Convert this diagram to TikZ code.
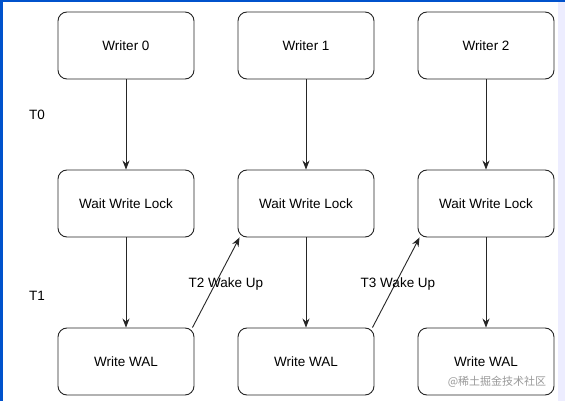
\documentclass[tikz,border=0pt]{standalone}
\usepackage{fontspec}
\setmainfont{Liberation Sans}
\newfontfamily\cjk{Noto Sans CJK SC}
\usetikzlibrary{arrows.meta}
\begin{document}
\begin{tikzpicture}[x=1pt,y=-1pt,
  box/.style={draw=black!85,line width=0.9pt,rounded corners=9pt,minimum width=136pt,minimum height=67pt,inner sep=0pt,font=\fontsize{13.5}{15}\selectfont,fill=white},
  arr/.style={draw=black!85,line width=0.9pt,-{Stealth[length=9pt,width=7pt]}},
  lbl/.style={font=\fontsize{13.5}{15}\selectfont,inner sep=0pt}]
\useasboundingbox (0,0) rectangle (565,401);
\fill[white] (0,0) rectangle (565,401);
\fill[blue!60!cyan!80!black] (0,0) rectangle (3,401);
\fill[blue!60!cyan!80!black] (0,0) rectangle (565,2);
\fill[blue!7!white] (558,2) rectangle (565,401);
\node[box] (w0) at (126,45.5) {Writer 0};
\node[box] (w1) at (306,45.5) {Writer 1};
\node[box] (w2) at (486,45.5) {Writer 2};
\node[box] (l0) at (126,203.5) {Wait Write Lock};
\node[box] (l1) at (306,203.5) {Wait Write Lock};
\node[box] (l2) at (486,203.5) {Wait Write Lock};
\node[box] (a0) at (126,361.5) {Write WAL};
\node[box] (a1) at (306,361.5) {Write WAL};
\node[box] (a2) at (486,361.5) {Write WAL};
\foreach \i in {0,1,2}{
  \draw[arr] (w\i) -- (l\i);
  \draw[arr] (l\i) -- (a\i);
}
\draw[arr] (a0.north east) ++(-2,0) coordinate (s0) (s0) -- ([xshift=2pt]l1.south west);
\draw[arr] (a1.north east) ++(-2,0) coordinate (s1) (s1) -- ([xshift=2pt]l2.south west);
\node[lbl] (t0) at (37,115) {T0};
\node[lbl] (t1) at (37,296) {T1};
\node[lbl] (t2) at (226,284) {T2 Wake Up};
\node[lbl] (t3) at (398,284) {T3 Wake Up};
\node[font=\cjk\fontsize{11}{13}\selectfont,text=black!40,inner sep=0pt] (wm) at (497,382) {@稀土掘金技术社区};
\end{tikzpicture}
\end{document}
